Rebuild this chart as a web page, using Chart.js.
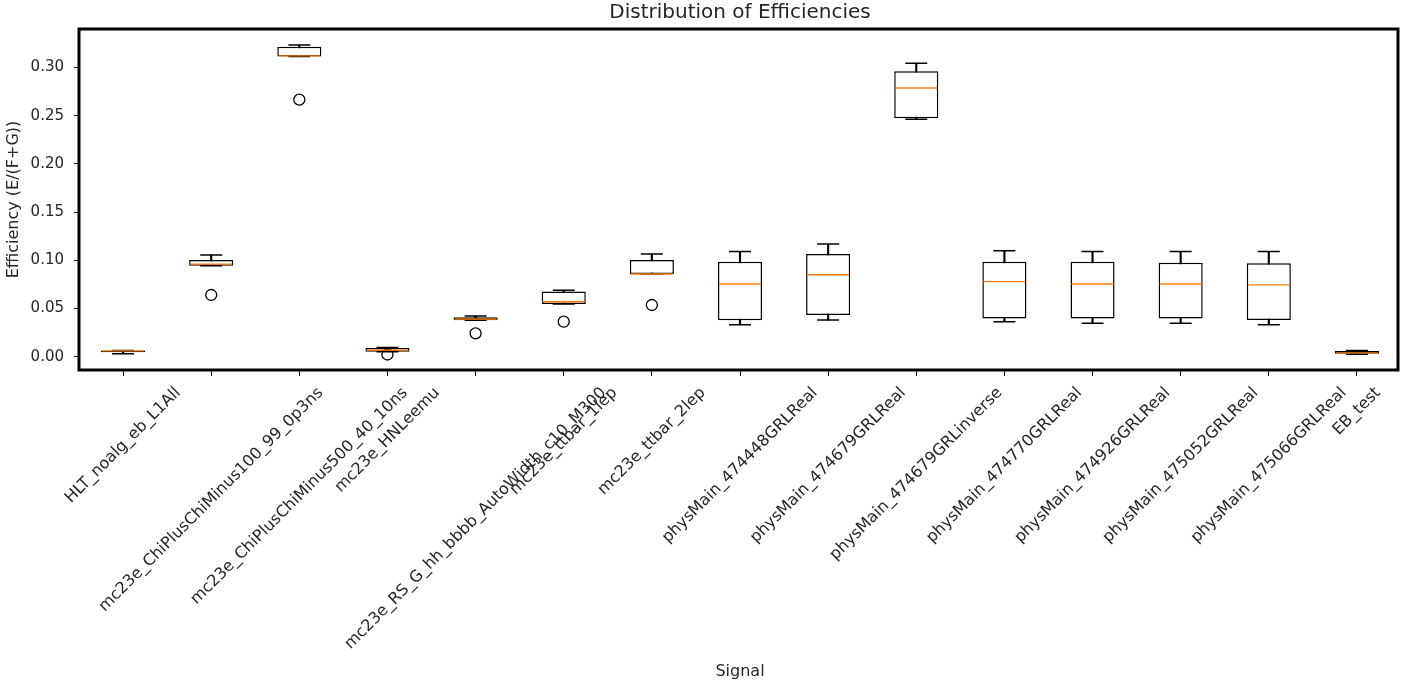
<!DOCTYPE html>
<html>
<head>
<meta charset="utf-8">
<title>Distribution of Efficiencies</title>
<script src="https://cdn.jsdelivr.net/npm/chart.js"></script>
<style>
  html, body { margin: 0; padding: 0; background: #fff; overflow: hidden; }
  #wrap { width: 1401px; height: 681px; position: relative; }
</style>
</head>
<body>
<div id="wrap"><canvas id="boxChart"></canvas></div>
<script>
// box plot values
const categories = [
  'HLT_noalg_eb_L1All',
  'mc23e_ChiPlusChiMinus100_99_0p3ns',
  'mc23e_ChiPlusChiMinus500_40_10ns',
  'mc23e_HNLeemu',
  'mc23e_RS_G_hh_bbbb_AutoWidth_c10_M300',
  'mc23e_ttbar_1lep',
  'mc23e_ttbar_2lep',
  'physMain_474448GRLReal',
  'physMain_474679GRLReal',
  'physMain_474679GRLinverse',
  'physMain_474770GRLReal',
  'physMain_474926GRLReal',
  'physMain_475052GRLReal',
  'physMain_475066GRLReal',
  'EB_test'
];
const whiskerLow  = [0.003, 0.0944, 0.3115, 0.0052, 0.0377, 0.0547, 0.0858, 0.0332, 0.038, 0.2462, 0.0363, 0.0346, 0.0346, 0.0332, 0.0025];
const q1          = [0.0045, 0.0944, 0.3115, 0.0052, 0.0377, 0.0547, 0.0858, 0.0377, 0.0432, 0.2473, 0.0397, 0.0397, 0.0397, 0.038, 0.003];
const median      = [0.006, 0.096, 0.312, 0.0069, 0.0391, 0.057, 0.0858, 0.0754, 0.085, 0.2787, 0.0778, 0.0754, 0.0754, 0.0744, 0.004];
const q3          = [0.0065, 0.1003, 0.3216, 0.009, 0.0408, 0.0677, 0.1003, 0.0985, 0.1065, 0.296, 0.0985, 0.0985, 0.0975, 0.0968, 0.006];
const whiskerHigh = [0.0065, 0.1055, 0.3233, 0.0095, 0.0421, 0.069, 0.1065, 0.109, 0.1169, 0.3043, 0.110, 0.109, 0.109, 0.109, 0.0065];
const outliers    = [null, 0.064, 0.2666, 0.0023, 0.0242, 0.0363, 0.0536, null, null, null, null, null, null, null, null];
const yTicks = [0, 0.05, 0.10, 0.15, 0.20, 0.25, 0.30];

const FONT = '"DejaVu Sans", "Liberation Sans", sans-serif';
const TEXT = '#262626';

// matplotlib style frame + centred 45deg x labels
const mplLook = {
  id: 'mplLook',
  afterDraw(chart) {
    const { ctx, chartArea: a } = chart;
    const xs = chart.scales.x;
    ctx.save();
    ctx.strokeStyle = '#000';
    ctx.lineWidth = 3;
    ctx.strokeRect(a.left, a.top, a.right - a.left - 3, a.bottom - a.top);

    ctx.font = '16px ' + FONT;
    ctx.fillStyle = TEXT;
    ctx.textAlign = 'center';
    ctx.textBaseline = 'middle';
    categories.forEach((lab, i) => {
      const x = xs.getPixelForValue(i);
      const w = ctx.measureText(lab).width;
      const half = (w + 15) / (2 * Math.SQRT2);
      ctx.save();
      ctx.translate(x, a.bottom + 15 + half);
      ctx.rotate(-Math.PI / 4);
      ctx.fillText(lab, 0, 0);
      ctx.restore();
    });
    ctx.restore();
  }
};

const ctx = document.getElementById('boxChart');
new Chart(ctx, {
  type: 'bar',
  data: {
    labels: categories,
    datasets: [
      {
        label: 'stems',
        data: categories.map((c, i) => [whiskerLow[i], whiskerHigh[i]]),
        backgroundColor: '#000',
        borderWidth: 0,
        barThickness: 1.5,
        grouped: false,
        order: 5
      },
      {
        label: 'boxes',
        data: categories.map((c, i) => [q1[i], q3[i]]),
        backgroundColor: '#fff',
        borderColor: '#000',
        borderWidth: 1.5,
        borderSkipped: false,
        barPercentage: 0.5,
        categoryPercentage: 1,
        grouped: false,
        order: 4
      },
      {
        label: 'capsLow',
        type: 'line',
        data: whiskerLow,
        showLine: false,
        pointStyle: 'line',
        pointRadius: 11,
        borderColor: '#000',
        borderWidth: 1.5,
        order: 3
      },
      {
        label: 'capsHigh',
        type: 'line',
        data: whiskerHigh,
        showLine: false,
        pointStyle: 'line',
        pointRadius: 11,
        borderColor: '#000',
        borderWidth: 1.5,
        order: 3
      },
      {
        label: 'median',
        type: 'line',
        data: median,
        showLine: false,
        pointStyle: 'line',
        pointRadius: 21,
        borderColor: '#ff7f0e',
        borderWidth: 1.3,
        order: 1
      },
      {
        label: 'outliers',
        type: 'line',
        data: outliers,
        showLine: false,
        pointStyle: 'circle',
        pointRadius: 5.5,
        backgroundColor: 'rgba(0,0,0,0)',
        borderColor: '#000',
        borderWidth: 1.3,
        order: 1
      }
    ]
  },
  options: {
    responsive: true,
    maintainAspectRatio: false,
    animation: false,
    events: [],
    layout: { padding: 0, autoPadding: false },
    plugins: {
      legend: { display: false },
      tooltip: { enabled: false },
      title: {
        display: true,
        text: 'Distribution of Efficiencies',
        fullSize: false,
        color: TEXT,
        font: { family: FONT, size: 20, weight: 'normal' },
        padding: { top: 0.5, bottom: 4.5 }
      }
    },
    scales: {
      x: {
        type: 'category',
        offset: true,
        border: { display: false },
        grid: { display: true, drawOnChartArea: false, offset: false, tickLength: 6, color: '#000' },
        ticks: { display: false },
        title: {
          display: true,
          text: 'Signal',
          color: TEXT,
          font: { family: FONT, size: 16 },
          padding: { top: 0, bottom: 0 }
        },
        afterFit: (s) => { s.height = 311; }
      },
      y: {
        min: -0.0138,
        max: 0.3399,
        border: { display: false },
        grid: { display: true, drawOnChartArea: false, tickLength: 5, color: '#000' },
        afterBuildTicks: (s) => { s.ticks = yTicks.map(v => ({ value: v })); },
        ticks: {
          color: TEXT,
          padding: 10,
          font: { family: FONT, size: 15 },
          callback: (v) => Number(v).toFixed(2)
        },
        title: {
          display: true,
          text: 'Efficiency (E/(F+G))',
          color: TEXT,
          font: { family: FONT, size: 16 },
          padding: { top: 4, bottom: 0 }
        },
        afterFit: (s) => { s.width = 79; }
      }
    }
  },
  plugins: [mplLook]
});
</script>
</body>
</html>
